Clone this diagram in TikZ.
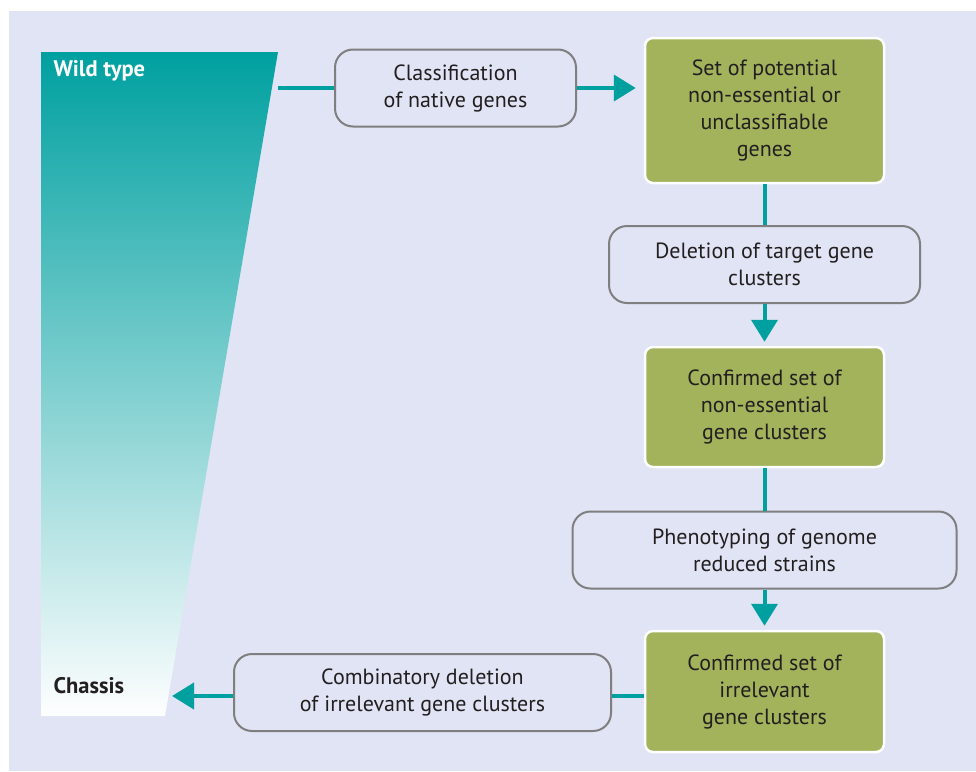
\documentclass[tikz,border=0pt]{standalone}
\usepackage{fontspec}
\setmainfont{PT Sans}
\usetikzlibrary{positioning,arrows.meta}
\definecolor{pagebg}{HTML}{E0E4F4}
\definecolor{flowteal}{HTML}{00A0A0}
\definecolor{setgreen}{HTML}{A2B35C}
\definecolor{boxgray}{HTML}{7F7F7F}
\definecolor{ink}{HTML}{231F20}
\tikzset{task node/.style={rectangle,rounded corners=18pt,draw=boxgray,line width=2pt,fill=pagebg,
    align=center,text=ink,font=\fontsize{22}{27}\selectfont,minimum height=77pt,inner sep=0pt},
  set node/.style={rectangle,rounded corners=8pt,draw=white,line width=2.5pt,fill=setgreen,
    align=center,text=ink,font=\fontsize{22}{27}\selectfont,minimum width=239pt,inner sep=0pt},
  flow/.style={color=flowteal,line width=4pt,>={Triangle[length=22pt,width=26pt]}} }

\begin{document}
\begin{tikzpicture}[x=1pt,y=-1pt]
  \useasboundingbox (0,0) rectangle (976,771);
  \fill[pagebg] (9,11) rectangle (976,771);

  % wild type -> chassis wedge
  \shade[top color=flowteal,middle color=flowteal!50,bottom color=white!96!pagebg]
    (41,52) -- (278,52) -- (165,716) -- (41,716) -- cycle;
  \node[anchor=west,text=white,font=\fontsize{22.5}{24}\selectfont\bfseries] (wild) at (50,71) {Wild type};
  \node[anchor=west,text=ink,font=\fontsize{22.5}{24}\selectfont\bfseries] (chassis) at (50,686) {Chassis};

\begin{scope}[on grid]
  \node[task node,minimum width=241pt] (1) at (455.5,88) {Classification\\of native genes};
  \node[set node,minimum height=145pt] (2) at (764.5,110.5) {Set of potential\\non-essential or\\unclassifiable\\genes};
  \node[task node,minimum width=311pt] (3) [below=154pt of 2] {Deletion of target gene\\clusters};
  \node[set node,minimum height=120pt] (4) [below=142.5pt of 3] {Confirmed set of\\non-essential\\gene clusters};
  \node[task node,minimum width=384pt] (5) [below=143pt of 4] {Phenotyping of genome\\reduced strains};
  \node[set node,minimum height=121pt] (6) [below=141.5pt of 5] {Confirmed set of\\irrelevant\\gene clusters};
  \node[task node,minimum width=377pt] (7) at (422.5,692.5) {Combinatory deletion\\of irrelevant gene clusters};

  \coordinate (wt) at (278,88);
  \coordinate (ch) at (172,696);

    \path[flow]
    (wt) edge (1)
    (1.east) edge [->, shorten >=8pt] (1.east -| 2.west)
    (2) edge (3)
    (3) edge [->, shorten >=4pt] (4)
    (4) edge (5)
    (5) edge [->, shorten >=4pt] (6)
    (6.west |- ch) edge (7.east |- ch)
    (7.west |- ch) edge [->] (ch)
    ;
\end{scope}
\end{tikzpicture}
\end{document}
